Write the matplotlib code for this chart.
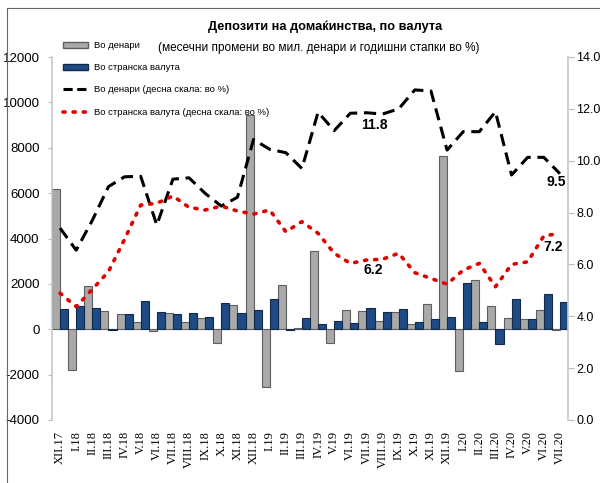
import matplotlib
matplotlib.use("Agg")
import matplotlib.pyplot as plt
from matplotlib.lines import Line2D
from matplotlib.patches import Patch
import numpy as np

months = ["XII.17", "I.18", "II.18", "III.18", "IV.18", "V.18", "VI.18", "VII.18",
          "VIII.18", "IX.18", "X.18", "XI.18", "XII.18", "I.19", "II.19", "III.19",
          "IV.19", "V.19", "VI.19", "VII.19", "VIII.19", "IX.19", "X.19", "XI.19",
          "XII.19", "I.20", "II.20", "III.20", "IV.20", "V.20", "VI.20", "VII.20"]

denars_change = [6200, -1780, 1900, 820, 690, 320, -80, 720,
                 320, 500, -590, 1070, 9430, -2540, 1940, 60,
                 3440, -590, 840, 790, 350, 780, 250, 1100,
                 7620, -1840, 2190, 1040, 500, 430, 870, -50]

foreign_change = [880, 1030, 950, -50, 660, 1250, 750, 690,
                  720, 560, 1160, 720, 840, 1340, -20, 510,
                  220, 370, 280, 950, 760, 900, 340, 440,
                  540, 2060, 320, -630, 1340, 470, 1570, 1200]

denars_rate = [7.4, 6.55, 7.7, 9.0, 9.38, 9.4, 7.52, 9.29,
               9.34, 8.74, 8.25, 8.59, 10.82, 10.44, 10.31, 9.7,
               11.87, 11.16, 11.83, 11.85, 11.8, 12.0, 12.73, 12.69,
               10.41, 11.12, 11.12, 11.89, 9.45, 10.13, 10.13, 9.5]

foreign_rate = [4.89, 4.37, 5.04, 5.72, 6.97, 8.29, 8.36, 8.64,
                8.2, 8.1, 8.25, 8.06, 7.94, 8.1, 7.26, 7.65,
                7.2, 6.43, 6.04, 6.17, 6.2, 6.43, 5.68, 5.46,
                5.24, 5.78, 6.04, 5.14, 6.0, 6.1, 7.1, 7.2]

left_ticks = [-4000, -2000, 0, 2000, 4000, 6000, 8000, 10000, 12000]
right_ticks = [0, 2, 4, 6, 8, 10, 12, 14]

title = "Депозити на домаќинства, по валута"
subtitle = "(месечни промени во мил. денари и годишни стапки во %)"
legend_labels = ["Во денари", "Во странска валута",
                 "Во денари (десна скала: во %)",
                 "Во странска валута (десна скала: во %)"]

plt.rcParams['font.family'] = ['Liberation Sans', 'DejaVu Sans']

fig = plt.figure(figsize=(6.0, 4.83), dpi=100)
ax = fig.add_axes([52/600, 1-420/483, (568-52)/600, (420-57)/483])
ax2 = ax.twinx()

x = np.arange(len(months))
w = 0.5
gray_c = "#a9a9a9"
blue_c = "#1f4a85"
ax.bar(x - w/2, denars_change, width=w, color=gray_c, edgecolor="#5f5f5f", linewidth=0.8, zorder=2)
ax.bar(x + w/2, foreign_change, width=w, color=blue_c, edgecolor="#12294a", linewidth=0.8, zorder=2)

ax2.plot(x, denars_rate, color="black", linestyle=(0, (4, 2.2)), linewidth=2.2, zorder=3)
ax2.plot(x, foreign_rate, color="#e00000", linestyle=(0, (0.6, 2.2)), linewidth=2.6,
         dash_capstyle="round", zorder=3)

ax.set_xlim(-0.5, len(months) - 0.5)
ax.set_ylim(-4000, 12000)
ax2.set_ylim(0, 14)

ax.set_yticks(left_ticks)
ax.set_yticklabels([str(t) for t in left_ticks], fontsize=9.5)
ax2.set_yticks(right_ticks)
ax2.set_yticklabels([f"{t:.1f}" for t in right_ticks], fontsize=9)

ax.set_xticks(x)
ax.set_xticklabels(months, rotation=90, fontsize=9, family="Liberation Serif")
ax.tick_params(axis="x", length=0, pad=8)
ax.tick_params(axis="y", length=3, color="#bbbbbb", pad=6)
ax2.tick_params(axis="y", length=4, color="#bbbbbb", pad=2)

for a in (ax, ax2):
    for s in ("top", "bottom"):
        a.spines[s].set_visible(False)
ax.spines["right"].set_visible(False)
ax2.spines["left"].set_visible(False)
ax.spines["left"].set_color("#c8c8c8")
ax2.spines["right"].set_color("#c8c8c8")
ax.spines["left"].set_linewidth(1.2)
ax2.spines["right"].set_linewidth(1.2)

ax.axhline(0, color="#8fa9c8", linewidth=0.8, zorder=1)

# annotations
ann = dict(textcoords="offset points", ha="center", va="center", fontsize=10, fontweight="bold")
ax2.annotate("11.8", (20, denars_rate[20]), xytext=(-6, -8), **ann)
ax2.annotate("6.2", (20, foreign_rate[20]), xytext=(-7, -8), **ann)
ax2.annotate("9.5", (31, denars_rate[31]), xytext=(-3, -6), **ann)
ax2.annotate("7.2", (31, foreign_rate[31]), xytext=(-5, -10), **ann)

fig.text(325/600, 1-27/483, title, ha="center", va="center", fontsize=9.2, fontweight="bold")
fig.text(319/600, 1-48/483, subtitle, ha="center", va="center", fontsize=8.5)

handles = [Patch(facecolor=gray_c, edgecolor="#5f5f5f"),
           Patch(facecolor=blue_c, edgecolor="#12294a"),
           Line2D([], [], color="black", linestyle=(0, (3, 1.5)), linewidth=2.2),
           Line2D([], [], color="#e00000", linestyle=(0, (0.6, 2.2)), linewidth=2.6,
                  dash_capstyle="round")]
fig.legend(handles, legend_labels, loc="upper left", bbox_to_anchor=(63/600, 1-41/483),
           frameon=False, fontsize=6.8, handlelength=2.6, handleheight=0.6,
           labelspacing=1.4, handletextpad=0.7, borderaxespad=0, borderpad=0)

# outer frame lines
fig.add_artist(Line2D([7/600, 1], [1-8/483, 1-8/483], transform=fig.transFigure,
                      color="#666666", linewidth=0.8))
fig.add_artist(Line2D([7/600, 7/600], [0, 1-8/483], transform=fig.transFigure,
                      color="#666666", linewidth=0.8))

fig.savefig("out.png", dpi=100)
